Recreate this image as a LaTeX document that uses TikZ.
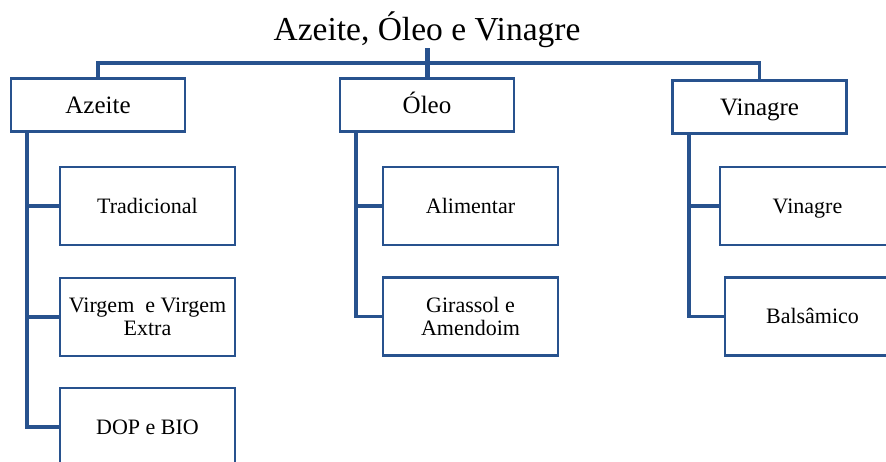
\documentclass[tikz,border=0pt]{standalone}
\usepackage{fontspec}
\setmainfont{Liberation Serif}
\usetikzlibrary{positioning}

\definecolor{linkblue}{RGB}{40,82,142}

\tikzset{
	topbox/.style={draw=linkblue, line width=2.6pt, fill=white, inner sep=0pt,
		minimum width=174pt, minimum height=53pt,
		font=\rmfamily\fontsize{25}{28}\selectfont,
		text height=19pt, text depth=3pt},
	subbox/.style={draw=linkblue, line width=2.6pt, fill=white, inner sep=0pt,
		minimum width=175pt, minimum height=78pt, align=center,
		font=\rmfamily\fontsize{22}{23}\selectfont,
		text height=17pt, text depth=3pt},
	twolines/.style={subbox, text height=, text depth=},
	link/.style={draw=linkblue, line width=3.8pt}
}

\begin{document}
\begin{tikzpicture}[x=1pt, y=-1pt]

	\useasboundingbox (0,0) rectangle (886,461);

	% title
	\node[font=\rmfamily\fontsize{33.5}{36}\selectfont] (title) at (427,30) {Azeite, Óleo e Vinagre};

	% first level
	\node[topbox] (azeite) at (98,105) {Azeite};
	\node[topbox] (oleo) at (427,105) {Óleo};
	\node[topbox] (vinagre) at (759.5,107) {Vinagre};

	% second level
	\node[subbox] (trad) at (147.5,206) {Tradicional};
	\node[twolines] (virgem) at (147.5,317) {Virgem \ e Virgem\\Extra};
	\node[subbox] (dop) at (147.5,427) {DOP e BIO};

	\node[subbox] (alim) at (470.5,206) {Alimentar};
	\node[twolines] (gira) at (470.5,316.5) {Girassol e\\Amendoim};

	\node[subbox] (vin) at (807.5,206) {Vinagre};
	\node[subbox] (bals) at (812.5,316.5) {Balsâmico};

	\coordinate (bar) at (427,63);

	% top bar
	\draw[link] (azeite.north) |- (bar) -| (vinagre.north);
	\draw[link, line width=5pt] (427,48) -- (oleo.north);

	% children of Azeite
	\draw[link] ([xshift=17pt]azeite.south west) |- (trad.west);
	\draw[link] ([xshift=17pt]azeite.south west) |- (virgem.west);
	\draw[link] ([xshift=17pt]azeite.south west) |- (dop.west);

	% children of Oleo
	\draw[link] ([xshift=17pt]oleo.south west) |- (alim.west);
	\draw[link] ([xshift=17pt]oleo.south west) |- (gira.west);

	% children of Vinagre
	\draw[link] ([xshift=18pt]vinagre.south west) |- (vin.west);
	\draw[link] ([xshift=18pt]vinagre.south west) |- (bals.west);

\end{tikzpicture}
\end{document}
